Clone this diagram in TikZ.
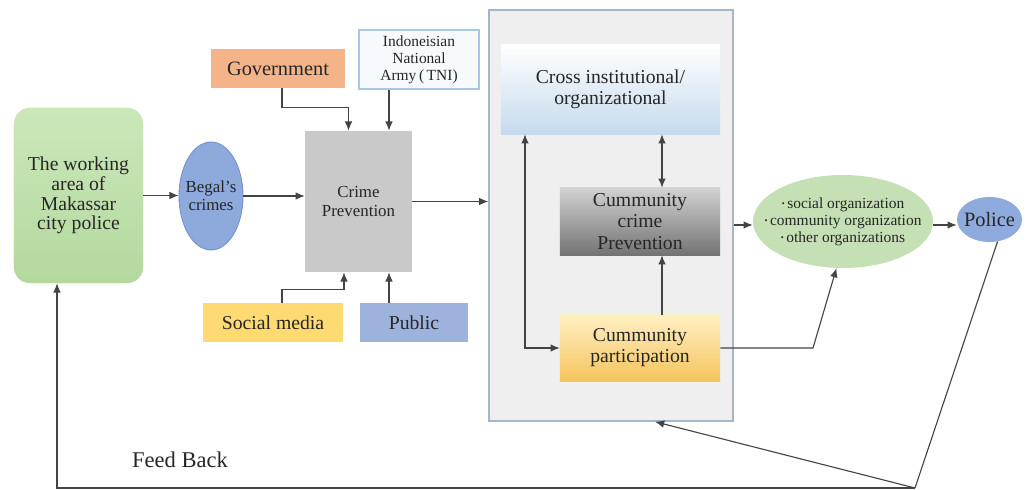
\documentclass[tikz,border=0pt]{standalone}
\usepackage{fontspec}
\setmainfont{Liberation Serif}
\usetikzlibrary{arrows.meta,positioning,calc,shapes.geometric}
\definecolor{areaGreen}{HTML}{B3D99E}
\definecolor{areaGreenTop}{HTML}{CBE7BA}
\definecolor{begalBlue}{HTML}{8EA9DB}
\definecolor{begalEdge}{HTML}{7391C9}
\definecolor{crimeGray}{HTML}{C9C9C9}
\definecolor{govOrange}{HTML}{F4B489}
\definecolor{tniEdge}{HTML}{A9C8E6}
\definecolor{tniFill}{HTML}{F7FAFD}
\definecolor{socialYellow}{HTML}{FFD971}
\definecolor{publicBlue}{HTML}{9DB2DD}
\definecolor{frameFill}{HTML}{EFEFF0}
\definecolor{frameEdge}{HTML}{A3B6CB}
\definecolor{crossBottom}{HTML}{C5DAEE}
\definecolor{ccpTop}{HTML}{D2D2D2}
\definecolor{ccpBottom}{HTML}{737373}
\definecolor{partTop}{HTML}{FFEFC2}
\definecolor{partBottom}{HTML}{F6C45E}
\definecolor{orgsGreen}{HTML}{C6E0B5}
\definecolor{policeBlue}{HTML}{8FAADC}
\definecolor{lineGray}{HTML}{444444}
\tikzset{
  >=Latex,
  % plain coloured boxes
  box/.style={
    fill=#1,
    draw=none,
    align=center,
    inner sep=2pt,
    text=black!85
  },
  box/.default=crimeGray,
  % shaded boxes inside the frame
  shadedbox/.style 2 args={
    top color=#1,
    bottom color=#2,
    draw=none,
    align=center,
    inner sep=2pt,
    text=black!85,
    font=\fontsize{14}{15}\selectfont
  },
  blob/.style={
    ellipse,
    fill=#1,
    draw=none,
    align=center,
    inner ysep=0pt,
    text=black!85
  },
  arrow/.style={
    -{Latex[length=2.3mm,width=1.9mm]},
    line width=0.8pt,
    draw=lineGray
  },
  dblarrow/.style={
    {Latex[length=2.3mm,width=1.9mm]}-{Latex[length=2.3mm,width=1.9mm]},
    line width=0.8pt,
    draw=lineGray
  },
  plainline/.style={
    line width=0.8pt,
    draw=lineGray
  }
}
\newcommand{\orgdot}{{\fontsize{6}{6}\selectfont\raisebox{0.5ex}{\textbullet}}\,}
\begin{document}
\begin{tikzpicture}[x=0.025cm,y=-0.025cm]
\useasboundingbox (0,0) rectangle (1029,490);

% left part
\node[box, top color=areaGreenTop, bottom color=areaGreen, rounded corners=0.4cm,
  minimum width=3.225cm, minimum height=4.375cm, font=\fontsize{14}{14}\selectfont] (area) at (78.5,195.5)
{The working\\area of\\Makassar\\city police};

\node[blob=begalBlue, draw=begalEdge, line width=0.6pt, inner xsep=-3pt, minimum width=1.6cm, minimum height=2.7cm,
  font=\fontsize{12}{12.5}\selectfont] (begal) at (211,196) {Begal's\\crimes};

\node[box=crimeGray, minimum width=2.675cm, minimum height=3.525cm,
  font=\fontsize{12}{14}\selectfont] (crime) at (358.5,201.5) {Crime\\Prevention};

\node[box=govOrange, minimum width=3.35cm, minimum height=0.975cm,
  font=\fontsize{14.5}{15}\selectfont] (gov) at (278,68.5) {Government};

\node[box=tniFill, draw=tniEdge, line width=0.8pt, minimum width=3cm, minimum height=1.475cm,
  font=\fontsize{11}{12}\selectfont] (tni) at (419,59.5) {Indoneisian\\National\\Army\,(\,TNI)};

\node[box=socialYellow, minimum width=3.5cm, minimum height=0.975cm,
  font=\fontsize{14}{15}\selectfont] (social) at (273,322.5) {Social media};

\node[box=publicBlue, minimum width=2.7cm, minimum height=0.975cm,
  font=\fontsize{14}{15}\selectfont] (public) at (414,322.5) {Public};

% frame with the three community boxes
\node[box=frameFill, draw=frameEdge, line width=1pt, minimum width=6.1cm, minimum height=10.275cm] (frame) at (611,215.5) {};

\node[shadedbox={white}{crossBottom}, minimum width=5.475cm, minimum height=2.225cm] (cross) at (610.5,89.5)
{Cross institutional/\\organizational};

\node[shadedbox={ccpTop}{ccpBottom}, minimum width=4cm, minimum height=1.675cm] (ccp) at (640,221.5)
{Cummunity\\crime\\Prevention};

\node[shadedbox={partTop}{partBottom}, minimum width=4cm, minimum height=1.65cm] (part) at (640,348)
{Cummunity\\participation};

% right part
\node[blob=orgsGreen, inner xsep=-13pt, minimum width=4.5cm, minimum height=2.325cm,
  font=\fontsize{11}{12}\selectfont] (orgs) at (843,221.5)
{\orgdot social organization\\\orgdot community organization\\\orgdot other organizations};

\node[blob=policeBlue, inner xsep=-6pt, minimum width=1.625cm, minimum height=1.125cm,
  font=\fontsize{14.5}{15}\selectfont] (police) at (989.5,219.5) {Police};

\node[font=\fontsize{16}{16}\selectfont, text=black!85] (feed) at (180,460) {Feed Back};

% connectors
\draw[arrow] (area.east) -- (area.east -| begal.west);
\draw[arrow] (begal.east) -- (begal.east -| crime.west);
\draw[arrow] ($(gov.south)+(4,0)$) -- ++(0,19) -| ($(crime.north)+(-10,0)$);
\draw[arrow] ($(tni.south)+(-30,0)$) coordinate (tnidrop) -- (tnidrop |- crime.north);
\draw[arrow] ($(social.north)+(9,0)$) -- ++(0,-13) -| ($(crime.south)+(-14.5,0)$);
\draw[arrow] ($(public.north)+(-25,0)$) coordinate (pubrise) -- (pubrise |- crime.south);
\draw[arrow] (crime.east) -- (crime.east -| frame.west);

\draw[dblarrow] ($(cross.south)+(51.5,0)$) coordinate (crossdrop) -- (crossdrop |- ccp.north);
\draw[arrow] ($(part.north)+(22,0)$) coordinate (partrise) -- (partrise |- ccp.south);
\draw[dblarrow] ($(cross.south)+(-85.5,0)$) |- (part.west);

\draw[arrow] ($(orgs.west -| frame.east)+(0,3.5)$) -- ($(orgs.west)+(0,3.5)$);
\draw[arrow] ($(orgs.east)+(0,3.5)$) -- ($(orgs.east -| police.west)+(0,3.5)$);

\coordinate (partbend) at (813,348);
\draw[arrow] (part.east) -- (partbend) -- (orgs.262);

\coordinate (fbcorner) at (915,488);
\coordinate (fbleft) at (57,488);
\draw[plainline] (police.290) -- (fbcorner);
\draw[arrow] (fbcorner) -- ($(frame.south)+(44,0)$);
\draw[arrow] (fbcorner) -- (fbleft) -- (fbleft |- area.south);

\end{tikzpicture}
\end{document}
